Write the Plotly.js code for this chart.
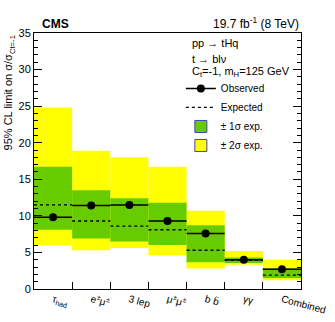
<!DOCTYPE html>
<html lang="en">
<head>
    <meta charset="UTF-8"/>
    <title>tHq limits</title>
    <script src="https://cdn.plot.ly/plotly-3.0.1.min.js"></script>
    <style>
    body { margin: 0; background: white; }
    #plot { width: 335px; height: 322px; }
    </style>
</head>
<body>
    <div id="plot"></div>
    <script>
        // channels and limits
        var channels = ['τ<sub>had</sub>', 'e<sup>±</sup>μ<sup>±</sup>', '3 lep', 'μ<sup>±</sup>μ<sup>±</sup>', 'b b̄', 'γγ', 'Combined'];
        var observed = [9.8, 11.4, 11.5, 9.3, 7.6, 4.0, 2.7];
        var expected = [11.5, 9.3, 8.6, 8.1, 5.3, 3.9, 1.9];
        var lo1 = [8.1, 6.9, 6.5, 6.0, 3.65, 3.55, 1.5];
        var hi1 = [16.7, 13.5, 12.4, 11.8, 8.7, 4.3, 2.85];
        var lo2 = [6.0, 5.3, 5.6, 4.6, 2.8, 3.3, 1.2];
        var hi2 = [24.8, 18.9, 18.0, 16.7, 10.7, 5.2, 4.0];

        var font = 'Liberation Sans, Arial, sans-serif';
        var green = '#66cc00', yellow = '#ffff00', boxLine = '#4444aa';
        var centers = channels.map(function (c, i) { return i + 0.5; });
        var edges = [];
        for (var i = 1; i < channels.length; i++) edges.push(i);

        // observed: a dot at the bin centre and a line across the bin
        var obsX = [], obsY = [], obsC = [];
        var expX = [], expY = [];
        centers.forEach(function (c, i) {
            obsX.push(c, c - 0.5, c + 0.5, null);
            obsY.push(observed[i], observed[i], observed[i], null);
            obsC.push('black', 'rgba(0,0,0,0)', 'rgba(0,0,0,0)', 'black');
            expX.push(c - 0.5, c + 0.5, null);
            expY.push(expected[i], expected[i], null);
        });

        var band2 = {
            type: 'bar', x: centers, base: lo2,
            y: hi2.map(function (v, i) { return v - lo2[i]; }),
            width: 1, marker: { color: yellow, line: { width: 0 } },
            showlegend: false
        };
        var band1 = {
            type: 'bar', x: centers, base: lo1,
            y: hi1.map(function (v, i) { return v - lo1[i]; }),
            width: 1, marker: { color: green, line: { width: 0 } },
            showlegend: false
        };
        // legend-only entries, so the boxes get their outline
        var key1 = {
            type: 'bar', x: [null], y: [null],
            marker: { color: green, line: { color: boxLine, width: 1 } },
            name: '± 1σ exp.', legendrank: 3
        };
        var key2 = {
            type: 'bar', x: [null], y: [null],
            marker: { color: yellow, line: { color: boxLine, width: 1 } },
            name: '± 2σ exp.', legendrank: 4
        };
        var exp = {
            type: 'scatter', mode: 'lines', x: expX, y: expY,
            line: { color: 'black', width: 1.3, dash: 'dot' },
            name: 'Expected', legendrank: 2
        };
        var obs = {
            type: 'scatter', mode: 'lines+markers', x: obsX, y: obsY,
            line: { color: 'black', width: 1.5 },
            marker: { color: obsC, size: 8 },
            name: 'Observed', legendrank: 1
        };

        var layout = {
            width: 335, height: 322,
            margin: { l: 34, r: 34, t: 33, b: 33 },
            font: { family: font, size: 11, color: 'black' },
            paper_bgcolor: 'white', plot_bgcolor: 'white',
            barmode: 'overlay',
            showlegend: true,
            legend: {
                x: 0.55, y: 0.84, xanchor: 'left', yanchor: 'top',
                bgcolor: 'rgba(0,0,0,0)', font: { size: 10 },
                itemwidth: 30, traceorder: 'normal'
            },
            xaxis: {
                range: [0, 7], tickmode: 'array', tickvals: centers, ticktext: channels,
                ticks: '', tickangle: 15, tickfont: { size: 10 },
                showgrid: false, zeroline: false,
                showline: true, linecolor: 'black', linewidth: 1, mirror: true,
                minor: { tickmode: 'array', tickvals: edges, ticks: 'inside', ticklen: 7, tickcolor: 'black' }
            },
            yaxis: {
                range: [0, 35], dtick: 5, ticks: 'inside', ticklen: 8, tickcolor: 'black',
                showgrid: false, zeroline: false,
                showline: true, linecolor: 'black', linewidth: 1, mirror: 'ticks',
                minor: { dtick: 1, ticks: 'inside', ticklen: 4, tickcolor: 'black' }
            },
            annotations: [
                { text: '<b>CMS</b>', xref: 'paper', yref: 'paper', x: 0.022, y: 1,
                  xanchor: 'left', yanchor: 'bottom', showarrow: false, font: { size: 12 } },
                { text: '19.7 fb<sup>-1</sup> (8 TeV)', xref: 'paper', yref: 'paper', x: 1, y: 1,
                  xanchor: 'right', yanchor: 'bottom', showarrow: false, font: { size: 12 } },
                { text: '95% CL limit on σ/σ<sub>Ct=-1</sub>', xref: 'paper', yref: 'paper',
                  x: -0.094, y: 1, xanchor: 'center', yanchor: 'top', textangle: -90,
                  showarrow: false, font: { size: 11 } },
                { text: 'pp → tHq', xref: 'paper', yref: 'paper', x: 0.584, y: 0.961,
                  xanchor: 'left', yanchor: 'middle', showarrow: false },
                { text: 't → blν', xref: 'paper', yref: 'paper', x: 0.584, y: 0.898,
                  xanchor: 'left', yanchor: 'middle', showarrow: false },
                { text: 'C<sub>t</sub>=-1, m<sub>H</sub>=125 GeV', xref: 'paper', yref: 'paper', x: 0.584, y: 0.848,
                  xanchor: 'left', yanchor: 'middle', showarrow: false }
            ]
        };

        Plotly.newPlot('plot', [band2, band1, exp, obs, key1, key2], layout, { staticPlot: true });
    </script>
</body>
</html>
